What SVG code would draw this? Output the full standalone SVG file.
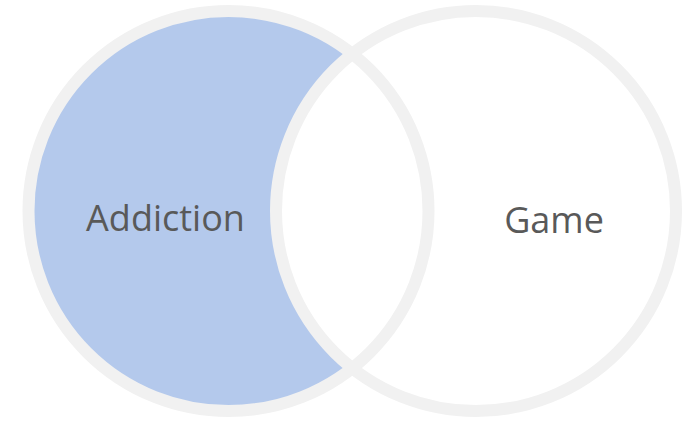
<svg xmlns="http://www.w3.org/2000/svg" width="687" height="421" viewBox="0 0 687 421">
<style>
.ring{fill:none;stroke:#F1F1F1;stroke-width:12}
.lbl{font-family:"Open Sans","Noto Sans",sans-serif;font-size:36px;fill:#595959;text-anchor:middle}
</style>
<rect width="687" height="421" fill="#FFFFFF"/>
<g id="addiction">
<circle cx="228.5" cy="211" r="200" fill="#B4C9EC"/>
</g>
<g id="game">
<circle cx="476" cy="211" r="200" fill="#FFFFFF"/>
</g>
<g id="rings">
<circle class="ring" cx="228.5" cy="211" r="200"/>
<circle class="ring" cx="476" cy="211" r="200"/>
</g>
<text class="lbl" x="165.5" y="231">Addiction</text>
<text class="lbl" x="554" y="233">Game</text>
</svg>
